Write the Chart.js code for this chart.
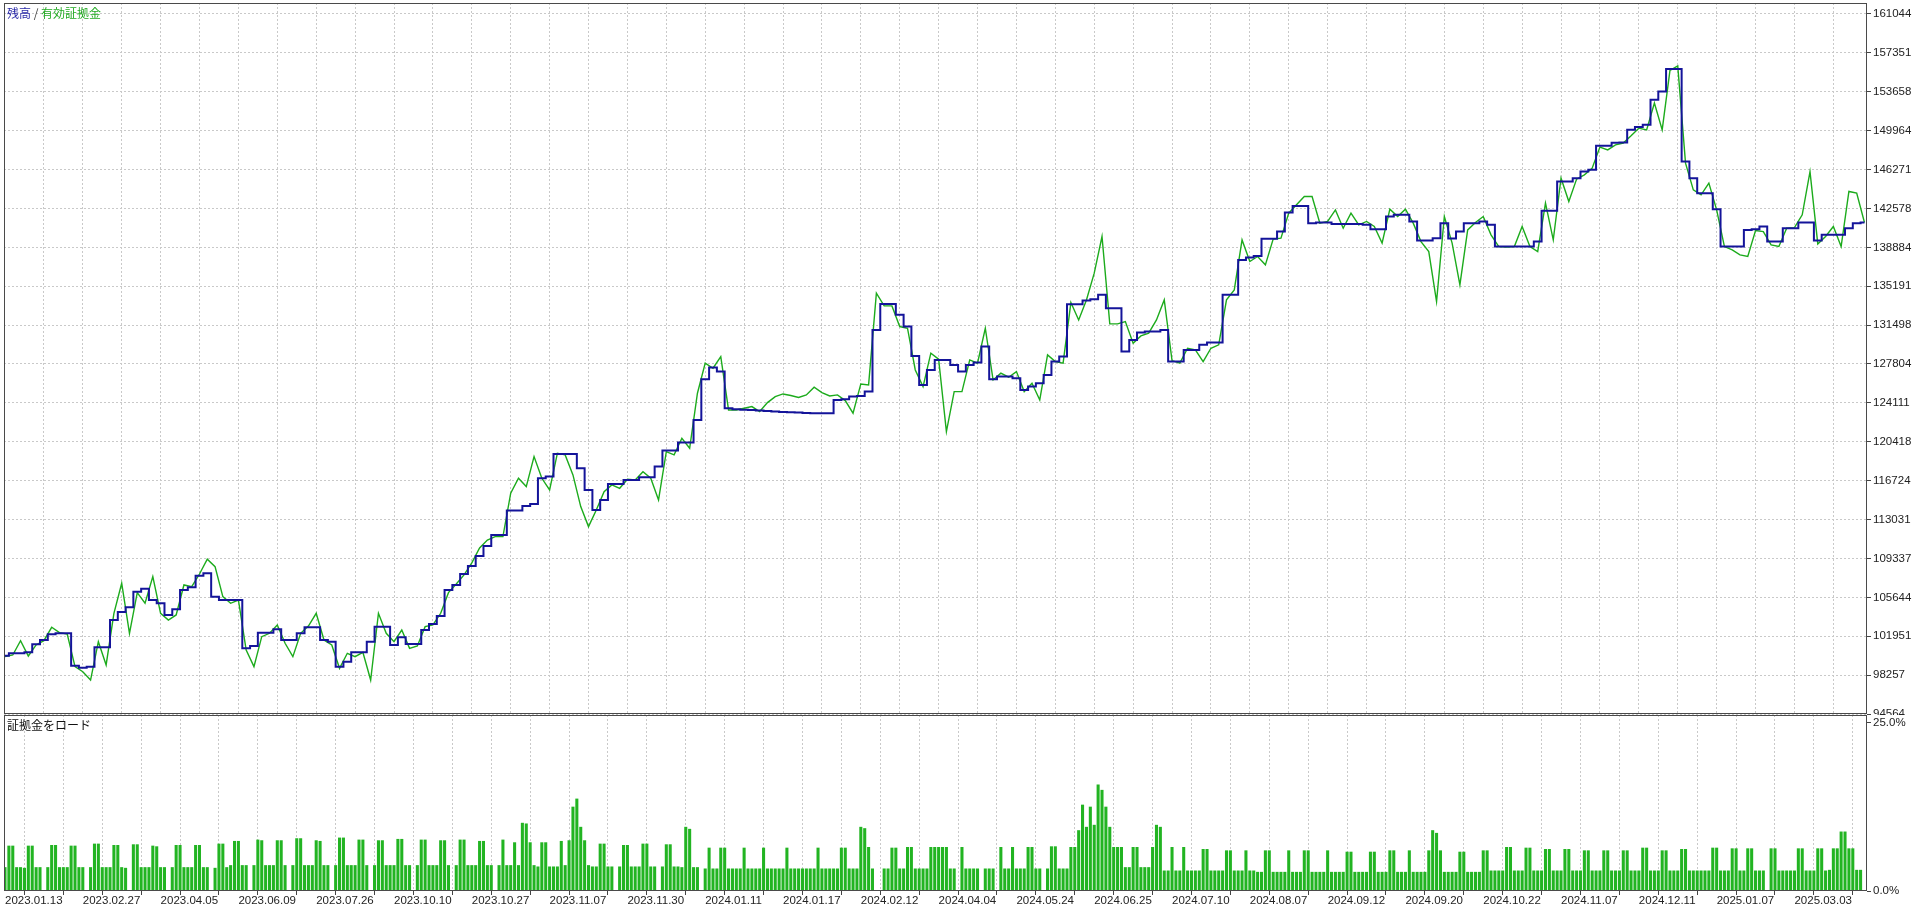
<!DOCTYPE html>
<html>
<head>
<meta charset="utf-8">
<title>残高 / 有効証拠金</title>
<script src="https://cdn.jsdelivr.net/npm/chart.js@4.4.0/dist/chart.umd.min.js"></script>
<style>
    html, body { margin: 0; padding: 0; background: #fff; overflow: hidden; }
    #wrap { position: relative; width: 1920px; height: 909px; }
    #balance-chart { position: absolute; left: 0; top: 0; }
    #load-chart { position: absolute; left: 0; top: 715px; background: #fff; }
    .title { position: absolute; left: 7px; font-family: "Noto Sans CJK JP", sans-serif; font-size: 12px; line-height: 14px; white-space: nowrap; }
</style>
</head>
<body>
<div id="wrap">
    <canvas id="balance-chart" width="1920" height="715"></canvas>
    <canvas id="load-chart" width="1920" height="194"></canvas>
    <div class="title" style="top:6px"><span style="color:#2a2aa8">残高</span><span style="color:#444"> / </span><span style="color:#22aa22">有効証拠金</span></div>
    <div class="title" style="top:718px;color:#111">証拠金をロード</div>
</div>
<script>
// x axis = deal number, one sample every 4 deals for the curves, one bar every 2 deals
const SAMPLE_STEP = 4;
const BAR_STEP = 2;

const dateLabels = [
    '2023.01.13', '2023.02.27', '2023.04.05', '2023.06.09', '2023.07.26', '2023.10.10',
    '2023.10.27', '2023.11.07', '2023.11.30', '2024.01.11', '2024.01.17', '2024.02.12',
    '2024.04.04', '2024.05.24', '2024.06.25', '2024.07.10', '2024.08.07', '2024.09.12',
    '2024.09.20', '2024.10.22', '2024.11.07', '2024.12.11', '2025.01.07', '2025.03.03'
];

const balanceTicks = [
    94564, 98257, 101951, 105644, 109337, 113031, 116724, 120418, 124111, 127804,
    131498, 135191, 138884, 142578, 146271, 149964, 153658, 157351, 161044
];

const loadTicks = [0, 25];

// 残高
const balance = [
    100100, 100330, 100330, 100420, 101180, 101590, 102130, 102230, 102230, 99150,
    98960, 99060, 100900, 100900, 103490, 104250, 104700, 106180, 106470, 105390,
    105080, 103970, 104510, 106340, 106600, 107700, 107930, 105710, 105390, 105390,
    105390, 100800, 101020, 102290, 102290, 102610, 101590, 101590, 102230, 102800,
    102800, 101590, 101430, 99060, 99530, 100420, 100420, 101430, 102860, 102860,
    101120, 101850, 101210, 101210, 102540, 103110, 103870, 106340, 106820, 107860,
    108620, 109570, 110520, 111570, 111570, 113880, 113880, 114320, 114510, 116950,
    117110, 119260, 119260, 119260, 117900, 115840, 113940, 114890, 116410, 116410,
    116790, 116790, 117050, 117050, 118060, 119580, 119580, 120340, 120340, 122490,
    126360, 127470, 127090, 123600, 123510, 123470, 123440, 123380, 123350, 123290,
    123250, 123220, 123190, 123160, 123130, 123130, 123130, 124390, 124460, 124710,
    124770, 125190, 131040, 133510, 133510, 132470, 131360, 128570, 125820, 127240,
    128190, 128190, 127720, 127080, 127720, 127940, 129460, 126360, 126610, 126610,
    126450, 125340, 125660, 125980, 126770, 128030, 128510, 133480, 133480, 133830,
    133960, 134370, 133100, 133100, 128980, 130090, 130790, 130880, 130880, 131040,
    128030, 128030, 129140, 129140, 129620, 129840, 129840, 134370, 134370, 137690,
    137920, 138070, 139690, 139690, 140390, 142190, 142820, 142820, 141180, 141240,
    141240, 141110, 141110, 141110, 141110, 141020, 140610, 140610, 141810, 141970,
    141970, 141330, 139530, 139530, 139750, 141180, 139720, 140380, 141180, 141180,
    141330, 141020, 138960, 138960, 138960, 138960, 138960, 139430, 142350, 142350,
    145130, 145130, 145450, 146080, 146240, 148520, 148520, 148810, 148840, 150040,
    150300, 150520, 152890, 153690, 155810, 155810, 147040, 145450, 144030, 144030,
    142510, 138960, 138960, 138960, 140540, 140610, 140860, 139430, 139430, 140700,
    140700, 141240, 141240, 139530, 140070, 140070, 140070, 140700, 141180, 141240
];

// 有効証拠金
const equity = [
    100010, 100170, 101530, 100070, 101120, 101530, 102800, 102290, 102160, 99060,
    98580, 97790, 101430, 99220, 104130, 106980, 102230, 106090, 105080, 107610,
    104130, 103490, 103970, 106820, 106660, 107860, 109260, 108560, 105710, 105080,
    105390, 100640, 99060, 101910, 102230, 103020, 101280, 100010, 102230, 102920,
    104130, 101590, 101120, 98900, 100330, 100010, 100420, 97790, 104130, 102230,
    101430, 102540, 100800, 101020, 102860, 103020, 104130, 106090, 106910, 107770,
    108910, 110330, 111090, 111410, 111410, 115530, 116950, 116160, 119010, 116950,
    115840, 119330, 119170, 117270, 114260, 112360, 113940, 115680, 116320, 116000,
    116860, 116790, 117580, 116950, 114890, 119480, 119170, 120750, 119800, 125030,
    127880, 127400, 128510, 123440, 123440, 123600, 123760, 123290, 124140, 124710,
    124960, 124810, 124620, 124870, 125600, 125090, 124770, 124870, 124330, 123130,
    125910, 125820, 134530, 133320, 133320, 131360, 131200, 127240, 125660, 128830,
    128260, 121380, 125180, 125180, 128190, 127880, 131200, 126290, 126930, 126550,
    127080, 125180, 125980, 124390, 128670, 128030, 127880, 133640, 131990, 133890,
    136430, 139910, 131610, 131610, 131840, 129780, 130470, 130730, 131990, 133890,
    128130, 127880, 129300, 129140, 128030, 129300, 129620, 133890, 134840, 139590,
    137540, 138010, 137220, 139660, 139750, 142130, 142920, 143710, 143710, 141180,
    141340, 142440, 140700, 142130, 141020, 141340, 140860, 139280, 142510, 141810,
    142510, 141180, 139430, 138480, 133730, 141810, 139280, 135320, 140540, 141240,
    141810, 140070, 138960, 138900, 138960, 140860, 138960, 138480, 143080, 139590,
    145450, 143230, 145360, 145770, 146400, 148400, 148140, 148620, 148780, 149470,
    150200, 150040, 152580, 150040, 155680, 156110, 146880, 144340, 143870, 144980,
    142440, 138960, 138640, 138170, 138010, 140480, 140380, 139120, 138960, 140700,
    140760, 141970, 146080, 139210, 139910, 140860, 138960, 144190, 144030, 141240
];

// 証拠金をロード (%)
const marginLoad = [
    3.5, 6.7, 6.7, 3.5, 3.5, 3.4, 6.7, 6.7, 3.5, 3.5, 0, 3.5, 6.8, 6.8, 3.5,
    3.5, 3.5, 6.7, 6.7, 3.5, 3.5, 0, 3.5, 7.0, 7.0, 3.5, 3.5, 3.5, 6.8, 6.8,
    3.5, 3.4, 0, 6.9, 6.9, 3.5, 3.5, 3.5, 6.7, 6.6, 3.5, 3.5, 0, 3.5, 6.8,
    6.8, 3.5, 3.5, 3.5, 6.8, 6.8, 3.5, 3.5, 0, 3.4, 7.0, 7.0, 3.5,
    3.8, 7.4, 7.4, 3.8, 3.8, 0, 3.8, 7.6, 7.5, 3.8, 3.8, 3.8, 7.5, 7.5, 3.8,
    0, 3.8, 7.8, 7.8, 3.8, 3.8, 3.8, 7.5, 7.4, 3.8, 3.8, 0, 3.8, 7.9, 7.9,
    3.8, 3.8, 3.8, 7.6, 7.6, 3.8, 0, 3.8, 7.5, 7.5, 3.8, 3.8, 3.8, 7.7,
    7.7, 3.8, 3.8, 0, 3.8, 7.6, 7.6, 3.8, 3.8, 3.8, 7.5, 7.5, 3.8, 0, 3.8,
    7.6, 7.6, 3.8, 3.8, 3.8, 7.4, 7.4, 3.8, 3.8, 0, 3.8, 7.6,
    3.8, 3.8, 7.2, 3.8, 10.1, 10.0, 7.2, 3.8,
    3.6, 7.2, 7.2, 3.6, 3.6, 3.6, 7.4,
    3.8, 7.5, 12.5, 13.7, 9.5, 7.5, 3.8,
    3.6, 3.6, 7.0, 7.0, 3.6, 3.6, 0, 3.6, 6.8, 6.8, 3.6, 3.6, 3.6, 7.0, 7.0,
    3.6, 3.6, 0, 3.6, 6.9, 6.9, 3.6, 3.6,
    3.5, 9.5, 9.2, 3.5, 3.5,
    0, 3.3, 6.4, 3.3, 3.3, 6.4, 6.4, 3.3, 3.3, 3.3, 3.3, 6.4, 3.3, 3.3, 3.3,
    3.3, 6.4, 3.3, 3.3, 3.3, 3.3, 3.3, 6.4, 3.3, 3.3, 3.3, 3.3, 3.3, 3.3, 3.3,
    6.4, 3.3, 3.3, 3.3, 3.3, 3.3, 6.4, 6.4, 3.3, 3.3,
    3.3, 9.5, 9.3,
    6.5, 3.3, 0, 0, 3.3, 3.3, 6.4, 6.4, 3.3, 3.3, 6.5, 6.5, 3.3, 3.3, 3.3,
    3.3, 6.5, 6.5, 6.5, 6.5, 6.5, 3.3, 3.3, 0, 6.5, 3.3, 3.3, 3.3, 3.3, 0,
    3.3, 3.3, 3.3, 0, 6.5, 3.3, 3.3, 6.5, 3.3, 3.3, 3.3, 6.5, 6.5, 3.3, 3.3,
    0, 3.3, 6.6, 6.6, 3.3, 3.3, 3.3, 6.5,
    6.5, 9.0, 12.8, 9.5, 12.5, 9.8, 15.8, 15.0, 12.5, 9.5, 6.5,
    6.5, 6.5, 3.5, 3.5, 6.5, 6.5, 3.5, 3.5, 3.5, 6.5,
    9.8, 9.5,
    3.0, 3.0, 6.5, 3.0, 3.0, 6.5, 3.0, 3.0, 3.0, 3.0, 6.2, 6.2, 3.0, 3.0, 3.0,
    3.0, 6.0, 6.0, 3.0, 3.0, 3.0, 6.0, 3.0, 3.0, 2.8, 2.8, 6.0, 6.0, 2.8, 2.8,
    2.8, 2.8, 6.0, 2.8, 2.8, 2.8, 6.0, 6.0, 2.8, 2.8, 2.8, 2.8, 6.0, 2.8, 2.8,
    2.8, 2.8, 5.8, 5.8, 2.8, 2.8, 2.8, 2.8, 5.8, 5.8, 2.8, 2.8, 2.8, 6.0, 6.0,
    2.8, 2.8, 2.8, 6.0, 2.8, 2.8, 2.8, 2.8, 6.0,
    9.0, 8.6,
    6.0, 2.8, 2.8, 2.8, 2.8, 5.8, 5.8, 2.8, 2.8, 2.8, 2.8, 6.0, 6.0, 3.0, 3.0,
    3.0, 3.0, 6.5, 6.5, 3.0, 3.0, 3.0, 6.4, 6.4, 3.0, 3.0, 3.0, 6.2, 6.2, 3.0,
    3.0, 3.0, 6.2, 6.2, 3.0, 3.0, 3.0, 6.0, 6.0, 3.0, 3.0, 3.0, 6.0, 6.0, 3.0,
    3.0, 3.0, 6.0, 6.0, 3.0, 3.0, 3.0, 6.4, 6.4, 3.0, 3.0, 3.0, 6.0, 6.0, 3.0,
    3.0, 3.0, 6.2, 6.2, 3.0, 3.0, 3.0, 3.0, 3.0, 3.0, 6.4, 6.4, 3.0, 3.0, 3.0,
    6.3, 6.3, 3.0, 3.0, 6.3, 6.3, 3.0, 3.0, 3.0, 0, 6.3, 6.3, 3.0, 3.0, 3.0,
    3.0, 3.0, 6.3, 6.3, 3.0, 3.0, 3.0, 6.3, 6.3, 3.0,
    3.1, 6.3, 6.3, 8.8, 8.8, 6.3, 6.3, 3.1, 3.1
];

const X_MIN = -0.51;
const X_MAX = 957.3;
const GRID_EVERY = 20;
const LABEL_EVERY = 40;

Chart.defaults.font.family = '"Liberation Sans", Arial, sans-serif';
Chart.defaults.font.size = 11.5;
Chart.defaults.color = '#222';

const gridColor = '#c9c9c9';

// frame round the plot area, like the terminal draws it
const framePlugin = {
    id: 'frame',
    afterDraw(chart) {
        const a = chart.chartArea;
        const ctx = chart.ctx;
        ctx.save();
        ctx.strokeStyle = '#4a4a4a';
        ctx.lineWidth = 1;
        ctx.strokeRect(a.left + 0.5, a.top + 0.5, a.right - a.left - 1, a.bottom - a.top - 1);
        ctx.restore();
    }
};

function gridTicks() {
    const t = [];
    for (let v = 0; v <= X_MAX; v += GRID_EVERY) t.push({ value: v });
    return t;
}

// no extra room for half labels at the ends, the frame sits where the layout says
function noEdgePadding(scale) {
    scale.paddingTop = 0;
    scale.paddingBottom = 0;
    scale.paddingLeft = 0;
    scale.paddingRight = 0;
}

function makeBalanceChart() {
    const ctx = document.getElementById('balance-chart').getContext('2d');
    return new Chart(ctx, {
        type: 'line',
        data: {
            datasets: [
                {
                    label: '残高',
                    data: balance.map((v, i) => ({ x: i * SAMPLE_STEP, y: v })),
                    borderColor: '#14149a',
                    borderWidth: 2,
                    pointRadius: 0,
                    stepped: 'middle',
                    fill: false
                },
                {
                    label: '有効証拠金',
                    data: equity.map((v, i) => ({ x: i * SAMPLE_STEP, y: v })),
                    borderColor: '#1cab1c',
                    borderWidth: 1.4,
                    pointRadius: 0,
                    tension: 0,
                    fill: false
                }
            ]
        },
        options: {
            responsive: false,
            animation: false,
            events: [],
            layout: { padding: { left: 4, top: 3, right: 0, bottom: 1 } },
            plugins: { legend: { display: false }, tooltip: { enabled: false } },
            scales: {
                x: {
                    type: 'linear',
                    min: X_MIN,
                    max: X_MAX,
                    afterBuildTicks: (scale) => { scale.ticks = gridTicks(); },
                    afterFit: (scale) => { scale.height = 0; noEdgePadding(scale); },
                    ticks: { display: false },
                    grid: { color: gridColor, drawTicks: false },
                    border: { display: false, dash: [2, 2] }
                },
                y: {
                    position: 'right',
                    min: 94564,
                    max: 162088,
                    afterBuildTicks: (scale) => { scale.ticks = balanceTicks.map(v => ({ value: v })); },
                    afterFit: (scale) => { scale.width = 53; noEdgePadding(scale); },
                    ticks: { autoSkip: false, padding: 2, callback: (v) => String(v) },
                    grid: { color: gridColor, drawTicks: true, tickLength: 4, tickColor: '#444' },
                    border: { display: false, dash: [2, 2] }
                }
            }
        },
        plugins: [framePlugin]
    });
}

function makeLoadChart() {
    const ctx = document.getElementById('load-chart').getContext('2d');
    return new Chart(ctx, {
        type: 'bar',
        data: {
            datasets: [{
                label: '証拠金をロード',
                data: marginLoad.map((v, j) => ({ x: j * BAR_STEP, y: v })),
                backgroundColor: '#22b422',
                borderWidth: 0,
                barThickness: 2.4
            }]
        },
        options: {
            responsive: false,
            animation: false,
            events: [],
            layout: { padding: { left: 4, top: 0, right: 0, bottom: 0 } },
            plugins: { legend: { display: false }, tooltip: { enabled: false } },
            scales: {
                x: {
                    type: 'linear',
                    offset: false,
                    min: X_MIN,
                    max: X_MAX,
                    afterBuildTicks: (scale) => { scale.ticks = gridTicks(); },
                    afterFit: (scale) => { scale.height = 18; noEdgePadding(scale); },
                    ticks: {
                        autoSkip: false,
                        maxRotation: 0,
                        minRotation: 0,
                        align: 'start',
                        padding: 0,
                        font: { lineHeight: 1 },
                        callback: (v) => (v % LABEL_EVERY === 0 ? dateLabels[v / LABEL_EVERY] : '')
                    },
                    grid: { color: gridColor, drawTicks: true, tickLength: 4, tickColor: '#444' },
                    border: { display: false, dash: [2, 2] }
                },
                y: {
                    position: 'right',
                    min: 0,
                    max: 26.19,
                    afterBuildTicks: (scale) => { scale.ticks = loadTicks.map(v => ({ value: v })); },
                    afterFit: (scale) => { scale.width = 53; noEdgePadding(scale); },
                    ticks: { autoSkip: false, padding: 2, callback: (v) => v.toFixed(1) + '%' },
                    grid: { drawOnChartArea: false, drawTicks: true, tickLength: 4, tickColor: '#444' },
                    border: { display: false }
                }
            }
        },
        plugins: [framePlugin]
    });
}

window.onload = function () {
    makeBalanceChart();
    makeLoadChart();
};
</script>
</body>
</html>
